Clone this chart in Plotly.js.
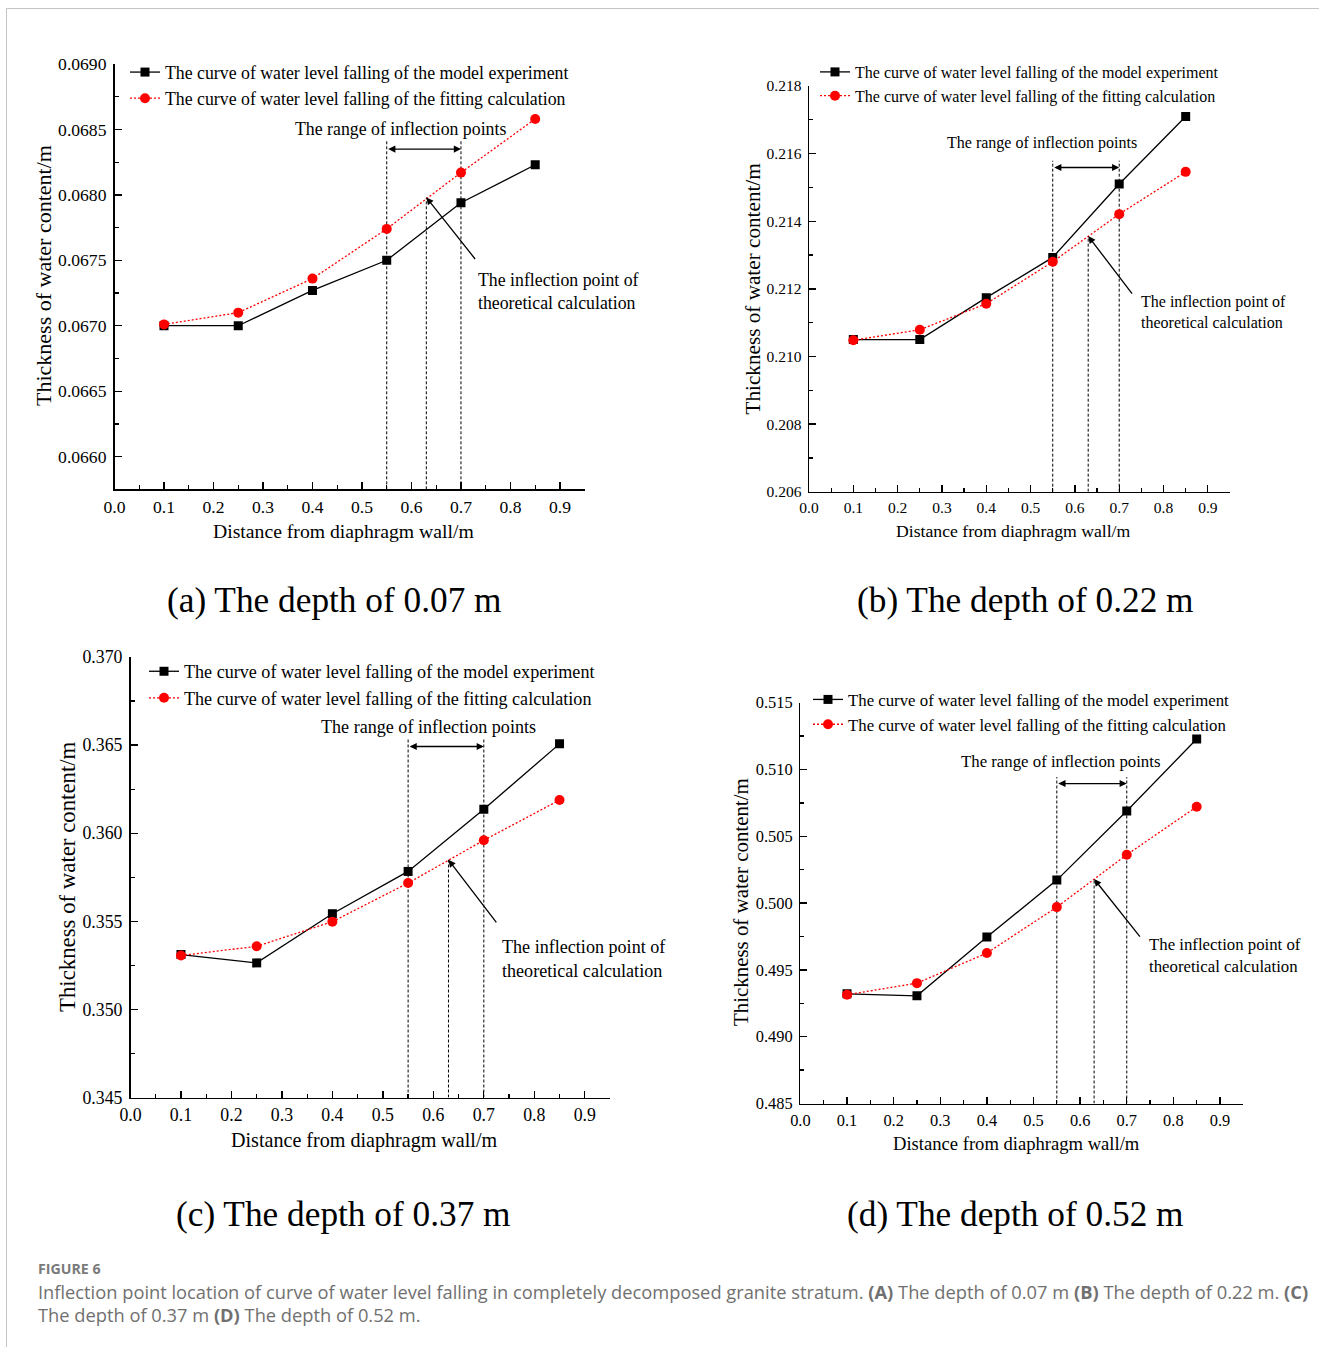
<!DOCTYPE html>
<html>
<head>
<meta charset="utf-8">
<script src="https://cdn.plot.ly/plotly-3.0.1.min.js"></script>
<style>
  body { margin: 0; background: #ffffff; }
  #chart { width: 1319px; height: 1347px; }
</style>
</head>
<body>
<div id="chart"></div>
<script>
// ---------------- DATA ----------------
const distance = [0.1, 0.25, 0.4, 0.55, 0.7, 0.85];

const expA = [0.06700, 0.06700, 0.06727, 0.06750, 0.06794, 0.06823];
const fitA = [0.06701, 0.06710, 0.06736, 0.06774, 0.06817, 0.06858];

const expB = [0.21050, 0.21050, 0.21174, 0.21293, 0.21510, 0.21710];
const fitB = [0.21048, 0.21079, 0.21156, 0.21280, 0.21421, 0.21546];

const expC = [0.35311, 0.35264, 0.35543, 0.35783, 0.36136, 0.36507];
const fitC = [0.35306, 0.35358, 0.35498, 0.35717, 0.35960, 0.36188];

const expD = [0.49321, 0.49306, 0.49746, 0.50172, 0.50689, 0.51228];
const fitD = [0.49314, 0.49401, 0.49626, 0.49970, 0.50362, 0.50721];

const inflectionRange = [0.55, 0.70];
const theoryInflectionX = 0.63;
const theoryInflectionY = [0.06798, 0.21356, 0.35849, 0.50180];
const rangeArrowY = [0.06835, 0.21559, 0.36492, 0.50895];
const rangeLineTop = [0.06842, 0.21579, 0.36539, 0.50943];

const expName = 'The curve of water level falling of the model experiment';
const fitName = 'The curve of water level falling of the fitting calculation';
const panelTitles = ['(a) The depth of 0.07 m', '(b) The depth of 0.22 m',
                     '(c) The depth of 0.37 m', '(d) The depth of 0.52 m'];
const xTitle = 'Distance from diaphragm wall/m';
const yTitle = 'Thickness of water content/m';
const rangeText = 'The range of inflection points';
const theoryText = 'The inflection point of<br>theoretical calculation';
const figLabel = 'FIGURE 6';
const caption1 = 'Inflection point location of curve of water level falling in completely decomposed granite stratum. <b>(A)</b> The depth of 0.07 m <b>(B)</b> The depth of 0.22 m. <b>(C)</b>';
const caption2 = 'The depth of 0.37 m <b>(D)</b> The depth of 0.52 m.';

const expSeries = [expA, expB, expC, expD];
const fitSeries = [fitA, fitB, fitC, fitD];

// ---------------- LAYOUT CONFIG ----------------
const W = 1319, H = 1347;
const px = x => x / W;
const py = y => 1 - y / H;
const SERIF = '"Liberation Serif", "Times New Roman", serif';

const panels = [
  { xd: [114.5, 584.7], yd: [64, 489.3], yr: [0.06575, 0.0690], dt: 0.0005, fmt: '.4f',
    tick: 17.6, leg: 17.8, xt: 19.7, yt: 22, ann: 17.8,
    legPos: [168, 68], xtPos: [343.5, 531], ytPos: [43, 276], titlePos: [334, 600],
    rangePos: [400, 129.3], theoryPos: [475.7, 292], arrowTail: [50, 63] },
  { xd: [809, 1230], yd: [86, 491.7], yr: [0.206, 0.218], dt: 0.002, fmt: '.3f',
    tick: 15.5, leg: 16, xt: 17.7, yt: 21.2, ann: 16,
    legPos: [858, 69], xtPos: [1013, 531], ytPos: [752, 288.5], titlePos: [1025, 600],
    rangePos: [1041.7, 143.3], theoryPos: [1139, 312.5], arrowTail: [45, 59] },
  { xd: [130.5, 610], yd: [657, 1097.5], yr: [0.345, 0.370], dt: 0.005, fmt: '.3f',
    tick: 17.8, leg: 18.1, xt: 20.1, yt: 22.8, ann: 18.1,
    legPos: [187, 667], xtPos: [364, 1140], ytPos: [67, 877], titlePos: [343, 1214],
    rangePos: [428.3, 727.3], theoryPos: [500, 958.5], arrowTail: [49, 64] },
  { xd: [800.4, 1243.3], yd: [702.7, 1103.5], yr: [0.485, 0.515], dt: 0.005, fmt: '.3f',
    tick: 16.4, leg: 16.8, xt: 18.6, yt: 20.9, ann: 16.8,
    legPos: [851, 696], xtPos: [1016, 1143], ytPos: [741, 902], titlePos: [1015.5, 1214],
    rangePos: [1060, 761.7], theoryPos: [1147.3, 955], arrowTail: [47, 59] }
];

const traces = [];
const annotations = [];
const layout = {
  width: W, height: H,
  margin: { l: 0, r: 0, t: 0, b: 0 },
  paper_bgcolor: '#ffffff',
  plot_bgcolor: 'rgba(0,0,0,0)',
  font: { family: SERIF, color: '#000000' },
  showlegend: true,
  hovermode: false,
  shapes: [
    { type: 'line', xref: 'paper', yref: 'paper', x0: px(6.5), x1: 1, y0: py(8.5), y1: py(8.5),
      line: { color: '#c4c4c4', width: 1 } },
    { type: 'line', xref: 'paper', yref: 'paper', x0: px(6.5), x1: px(6.5), y0: py(8.5), y1: 0,
      line: { color: '#c4c4c4', width: 1 } }
  ]
};

panels.forEach((p, i) => {
  const n = i === 0 ? '' : String(i + 1);
  const xa = 'x' + n, ya = 'y' + n;
  const legId = 'legend' + n;
  const ymin = p.yr[0];

  // dashed guide lines for the inflection range
  traces.push({
    x: [inflectionRange[0], inflectionRange[0], null, inflectionRange[1], inflectionRange[1]],
    y: [ymin, rangeLineTop[i], null, ymin, rangeLineTop[i]],
    mode: 'lines', xaxis: xa, yaxis: ya, showlegend: false, hoverinfo: 'skip',
    line: { color: '#000000', width: 1, dash: '3px,2px' }
  });
  traces.push({
    x: [theoryInflectionX, theoryInflectionX],
    y: [ymin, theoryInflectionY[i]],
    mode: 'lines', xaxis: xa, yaxis: ya, showlegend: false, hoverinfo: 'skip',
    line: { color: '#000000', width: 1, dash: '3px,2px' }
  });

  traces.push({
    x: distance, y: expSeries[i], name: expName, legend: legId,
    mode: 'lines+markers', xaxis: xa, yaxis: ya,
    line: { color: '#000000', width: 1.3 },
    marker: { symbol: 'square', size: 9, color: '#000000' }
  });
  traces.push({
    x: distance, y: fitSeries[i], name: fitName, legend: legId,
    mode: 'lines+markers', xaxis: xa, yaxis: ya,
    line: { color: '#ff0000', width: 1.3, dash: '2px,2px' },
    marker: { symbol: 'circle', size: 10, color: '#ff0000' }
  });

  layout['xaxis' + n] = {
    domain: [px(p.xd[0]), px(p.xd[1])], anchor: ya,
    range: [0, 0.95], tick0: 0, dtick: 0.1, tickformat: '.1f',
    showline: true, linecolor: '#000000', linewidth: 1.5,
    ticks: 'inside', ticklen: 7, tickwidth: 1.3, tickcolor: '#000000',
    minor: { ticks: 'inside', ticklen: 4, tickwidth: 1.3, tickcolor: '#000000', dtick: 0.05, tick0: 0 },
    showgrid: false, zeroline: false, fixedrange: true,
    tickfont: { family: SERIF, size: p.tick, color: '#000000' },
    ticklabelstandoff: 1
  };
  layout['yaxis' + n] = {
    domain: [py(p.yd[1]), py(p.yd[0])], anchor: xa,
    range: p.yr, tick0: p.yr[1], dtick: p.dt, tickformat: p.fmt,
    showline: true, linecolor: '#000000', linewidth: 1.5,
    ticks: 'inside', ticklen: 7, tickwidth: 1.3, tickcolor: '#000000',
    minor: { ticks: 'inside', ticklen: 4, tickwidth: 1.3, tickcolor: '#000000', dtick: p.dt / 2, tick0: p.yr[1] },
    showgrid: false, zeroline: false, fixedrange: true,
    tickfont: { family: SERIF, size: p.tick, color: '#000000' },
    ticklabelstandoff: 3
  };

  layout[legId] = {
    x: px(p.legPos[0] - 43), y: py(p.legPos[1] - 14), xanchor: 'left', yanchor: 'top',
    bgcolor: 'rgba(0,0,0,0)', borderwidth: 0,
    font: { family: SERIF, size: p.leg, color: '#000000' },
    traceorder: 'normal', tracegroupgap: 0
  };

  // double-headed range arrow
  annotations.push({
    xref: xa, yref: ya, x: inflectionRange[1], y: rangeArrowY[i],
    axref: xa, ayref: ya, ax: inflectionRange[0], ay: rangeArrowY[i],
    text: '', showarrow: true, arrowside: 'end+start', arrowhead: 2, arrowsize: 1.1,
    arrowwidth: 1.3, arrowcolor: '#000000', standoff: 0, startstandoff: 0
  });
  // arrow to theoretical inflection point
  annotations.push({
    xref: xa, yref: ya, x: theoryInflectionX, y: theoryInflectionY[i],
    ax: p.arrowTail[0], ay: p.arrowTail[1],
    text: '', showarrow: true, arrowhead: 2, arrowsize: 1.1,
    arrowwidth: 1.3, arrowcolor: '#000000', standoff: 0
  });
  // texts
  annotations.push({
    xref: 'paper', yref: 'paper', x: px(p.rangePos[0]), y: py(p.rangePos[1]),
    xanchor: 'center', yanchor: 'middle', showarrow: false, text: rangeText,
    font: { family: SERIF, size: p.ann, color: '#000000' }
  });
  annotations.push({
    xref: 'paper', yref: 'paper', x: px(p.theoryPos[0]), y: py(p.theoryPos[1]),
    xanchor: 'left', yanchor: 'middle', align: 'left', showarrow: false, text: theoryText,
    font: { family: SERIF, size: p.ann, color: '#000000' }
  });
  annotations.push({
    xref: 'paper', yref: 'paper', x: px(p.xtPos[0]), y: py(p.xtPos[1]),
    xanchor: 'center', yanchor: 'middle', showarrow: false, text: xTitle,
    font: { family: SERIF, size: p.xt, color: '#000000' }
  });
  annotations.push({
    xref: 'paper', yref: 'paper', x: px(p.ytPos[0]), y: py(p.ytPos[1]),
    xanchor: 'center', yanchor: 'middle', showarrow: false, text: yTitle, textangle: -90,
    font: { family: SERIF, size: p.yt, color: '#000000' }
  });
  annotations.push({
    xref: 'paper', yref: 'paper', x: px(p.titlePos[0]), y: py(p.titlePos[1]),
    xanchor: 'center', yanchor: 'middle', showarrow: false, text: panelTitles[i],
    font: { family: SERIF, size: 35.3, color: '#000000' }
  });
});

const CAP_FONT = '"Open Sans", Lato, sans-serif';
annotations.push({
  xref: 'paper', yref: 'paper', x: px(36), y: py(1268.5), xanchor: 'left', yanchor: 'middle',
  showarrow: false, text: '<b>' + figLabel + '</b>',
  font: { family: CAP_FONT, size: 14.2, color: '#7a7a7a' }
});
annotations.push({
  xref: 'paper', yref: 'paper', x: px(36), y: py(1291), xanchor: 'left', yanchor: 'middle',
  showarrow: false, text: caption1,
  font: { family: CAP_FONT, size: 18.3, color: '#707070' }
});
annotations.push({
  xref: 'paper', yref: 'paper', x: px(36), y: py(1314), xanchor: 'left', yanchor: 'middle',
  showarrow: false, text: caption2,
  font: { family: CAP_FONT, size: 18.3, color: '#707070' }
});

layout.annotations = annotations;

Plotly.newPlot('chart', traces, layout, { staticPlot: true, displayModeBar: false });
</script>
</body>
</html>
